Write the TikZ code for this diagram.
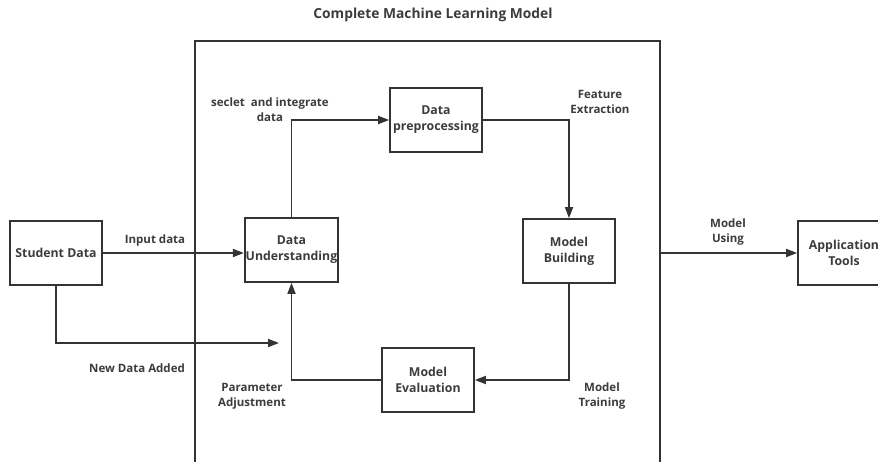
\documentclass[tikz,border=0pt]{standalone}
\usepackage{fontspec}
\setmainfont{Open Sans}
\usetikzlibrary{arrows.meta}

\definecolor{ink}{HTML}{333333}
\definecolor{txt}{HTML}{3C3C3C}

\begin{document}
\begin{tikzpicture}[x=1pt, y=-1pt,
    box/.style={draw=ink, line width=1.7pt, minimum width=92pt, minimum height=64pt,
      align=center, font=\bfseries\fontsize{12.3}{16}\selectfont, text=txt, inner sep=1pt},
    lbl/.style={align=center, font=\bfseries\fontsize{11.5}{15}\selectfont, text=txt},
    arr/.style={draw=ink, line width=1.7pt, -{Triangle[length=11pt,width=8pt]}}]
    \useasboundingbox (0,0) rectangle (878,462);
    \fill[white] (0,0) rectangle (878,462);
    % outer frame of the model
    \coordinate (frameNW) at (195,41);
    \coordinate (frameSE) at (660,490);
    \draw[ink, line width=1.7pt] (frameNW) rectangle (frameSE);
    \node[lbl, font=\bfseries\fontsize{13.8}{16}\selectfont] (title) at (433,15) {Complete Machine Learning Model};
    % boxes
    \node[box] (student) at (56,253) {Student Data};
    \node[box, minimum width=91pt] (underst) at (291.5,250) {Data\\Understanding};
    \node[box] (prep) at (436,120) {Data\\preprocessing};
    \node[box] (build) at (569,251) {Model\\Building};
    \node[box] (eval) at (428,380) {Model\\Evaluation};
    \node[box] (app) at (844,253) {Application\\Tools};
    \coordinate (newin) at (279,343);
    % connectors
    \draw[arr] (student.east) -- (student.east -| underst.west);
    \draw[arr] (student.south) |- (newin);
    \draw[arr] (underst.north) |- (prep.west);
    \draw[arr] (prep.east) -| (build.north);
    \draw[arr] (build.south) |- (eval.east);
    \draw[arr] (eval.west) -| (underst.south);
    \draw[arr] (frameSE |- app.west) -- (app.west);
    % labels
    \node[lbl] (inlbl) at (155,241) {Input data};
    \node[lbl] (newlbl) at (137,368) {New Data Added};
    \node[lbl] (sellbl) at (270,110) {seclet\ \ and integrate\\data};
    \node[lbl] (featlbl) at (600,102) {Feature\\Extraction};
    \node[lbl] (trainlbl) at (602,396) {Model\\Training};
    \node[lbl] (paramlbl) at (252,396) {Parameter\\Adjustment};
    \node[lbl] (uselbl) at (728,232) {Model\\Using};
\end{tikzpicture}
\end{document}
